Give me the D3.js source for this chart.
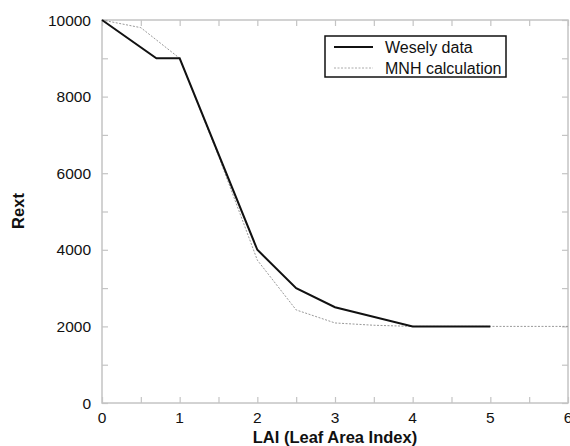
<!DOCTYPE html>
<html>
<head>
<meta charset="utf-8">
<script src="https://cdn.jsdelivr.net/npm/d3@7"></script>
<style>
body{margin:0;background:#fff;}
text{font-family:"Liberation Sans",Arial,sans-serif;}
</style>
</head>
<body>
<svg id="chart" width="570" height="446"></svg>
<script>
// les données
let weselyLai=[0,0.7,1,2,2.5,3,4,5]
let weselyRext=[10000,9000,9000,4000,3000,2500,2000,2000]
let mnhLai=[0,0.5,1,1.5,2,2.5,3,3.5,4,5,6]
let mnhRext=[10000,9800,9000,6450,3730,2430,2090,2030,2000,2000,2000]
let xTicks=[0,1,2,3,4,5,6]
let yTicks=[0,2000,4000,6000,8000,10000]
let seriesNames=["Wesely data","MNH calculation"]

let svg=d3.select("#chart")
let plotLeft=102,plotRight=568,plotTop=20,plotBottom=403

let x=d3.scaleLinear().domain([0,6]).range([plotLeft,plotRight])
let y=d3.scaleLinear().domain([0,10000]).range([plotBottom,plotTop])

let axisColor="#c4c4c4"

// cadre + graduations vers l'intérieur
svg.append("rect").attr("x",plotLeft).attr("y",plotTop)
   .attr("width",plotRight-plotLeft).attr("height",plotBottom-plotTop)
   .attr("fill","none").attr("stroke",axisColor).attr("stroke-width",1.5)

let xMinor=d3.range(0,6.01,0.5)
let yMinor=d3.range(0,10001,1000)

function tickStyle(g){
  g.select(".domain").remove()
  g.selectAll(".tick line").attr("stroke",axisColor).attr("stroke-width",1.2)
}
svg.append("g").attr("transform",`translate(0,${plotBottom})`)
   .call(d3.axisTop(x).tickValues(xMinor).tickSize(6).tickFormat("")).call(tickStyle)
svg.append("g").attr("transform",`translate(0,${plotTop})`)
   .call(d3.axisBottom(x).tickValues(xMinor).tickSize(6).tickFormat("")).call(tickStyle)
svg.append("g").attr("transform",`translate(${plotLeft},0)`)
   .call(d3.axisRight(y).tickValues(yMinor).tickSize(6).tickFormat("")).call(tickStyle)
svg.append("g").attr("transform",`translate(${plotRight},0)`)
   .call(d3.axisLeft(y).tickValues(yMinor).tickSize(6).tickFormat("")).call(tickStyle)

// étiquettes
svg.append("g").selectAll("text").data(xTicks).join("text")
   .attr("x",d=>x(d)).attr("y",plotBottom+20).attr("text-anchor","middle")
   .attr("font-size",15.5).attr("fill","#111").text(d=>d)
svg.append("g").selectAll("text").data(yTicks).join("text")
   .attr("x",plotLeft-11).attr("y",d=>y(d)+5.5).attr("text-anchor","end")
   .attr("font-size",15.5).attr("fill","#111").text(d=>d)

svg.append("text").attr("x",x(3)).attr("y",443).attr("text-anchor","middle")
   .attr("font-size",16.5).attr("font-weight","bold").attr("fill","#111").text("LAI (Leaf Area Index)")
svg.append("text").attr("transform","translate(24,211) rotate(-90)").attr("text-anchor","middle")
   .attr("font-size",16.5).attr("font-weight","bold").attr("fill","#111").text("Rext")

// courbes
let line=d3.line().x(d=>x(d[0])).y(d=>y(d[1]))
svg.append("path").datum(mnhLai.map((v,i)=>[v,mnhRext[i]]))
   .attr("d",line).attr("fill","none").attr("stroke","#999").attr("stroke-width",1)
   .attr("stroke-dasharray","2,1.5")
svg.append("path").datum(weselyLai.map((v,i)=>[v,weselyRext[i]]))
   .attr("d",line).attr("fill","none").attr("stroke","#111").attr("stroke-width",2)

// légende
let lg=svg.append("g")
lg.append("rect").attr("x",325).attr("y",36).attr("width",181).attr("height",41)
  .attr("fill","#fff").attr("stroke","#111").attr("stroke-width",1.5)
lg.append("line").attr("x1",334).attr("x2",373).attr("y1",47).attr("y2",47)
  .attr("stroke","#111").attr("stroke-width",2)
lg.append("line").attr("x1",334).attr("x2",373).attr("y1",68).attr("y2",68)
  .attr("stroke","#aaa").attr("stroke-width",1).attr("stroke-dasharray","2,1.5")
lg.selectAll("text").data(seriesNames).join("text")
  .attr("x",385).attr("y",(d,i)=>52.5+i*21).attr("font-size",16).attr("fill","#111").text(d=>d)
</script>
</body>
</html>
